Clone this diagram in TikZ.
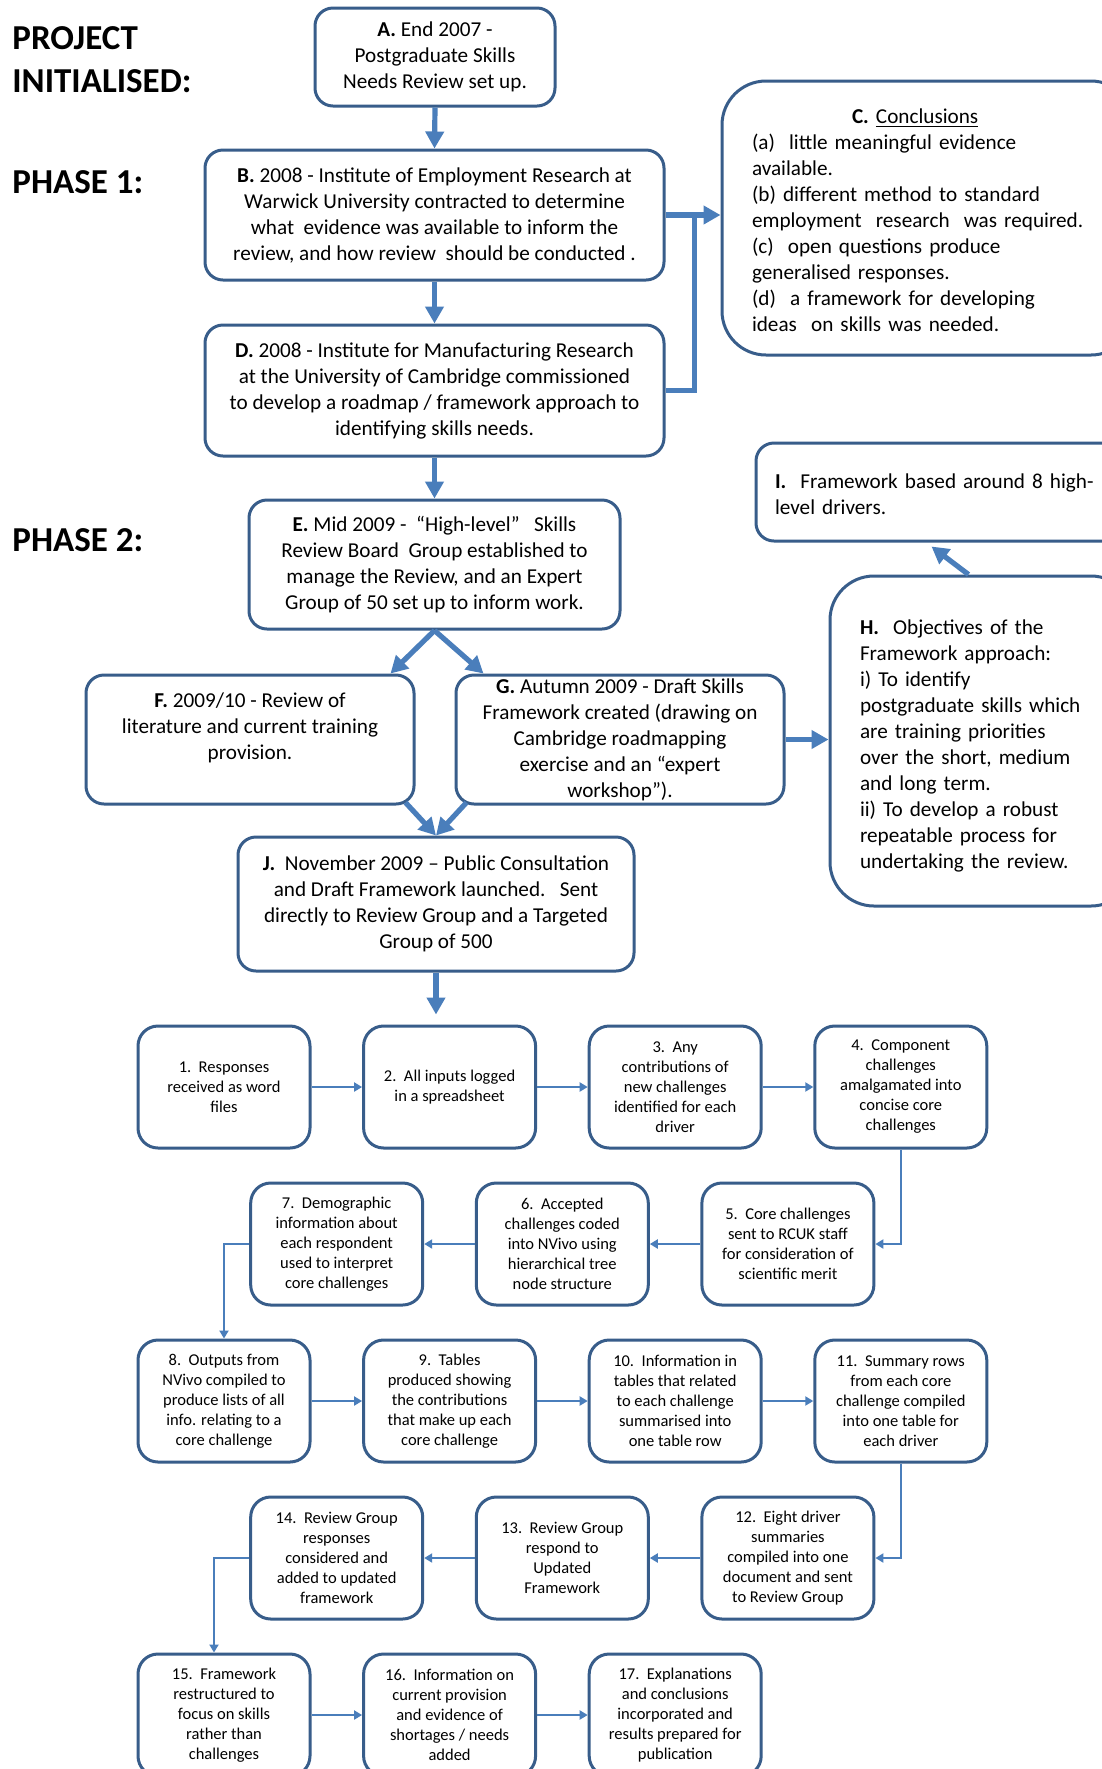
\documentclass[tikz,border=0pt]{standalone}
\usepackage{fontspec}
\setmainfont{Carlito}
\usetikzlibrary{arrows.meta,calc}
\definecolor{boxblue}{HTML}{385D8A}
\definecolor{arrblue}{HTML}{4A7EBB}
\begin{document}
\begin{tikzpicture}[x=0.5pt,y=-0.5pt,
  box/.style={draw=boxblue, line width=1.5pt, rounded corners=9pt, fill=white, align=center, inner sep=0pt, font=\fontsize{10.6}{13}\selectfont, execute at begin node={\rule{0pt}{10pt}}},
  lbox/.style={box, align=left},
  sbox/.style={draw=boxblue, line width=1.5pt, rounded corners=10pt, fill=white, align=center, minimum width=86pt, minimum height=61pt, inner sep=0pt, font=\fontsize{8.25}{10}\selectfont},
  big/.style={draw=arrblue, line width=2.6pt, -{Triangle[length=8.5pt,width=9pt]}},
  bigl/.style={draw=arrblue, line width=2.6pt},
  sm/.style={draw=arrblue, line width=1.3pt, -{Triangle[length=4pt,width=4.5pt]}},
  phase/.style={font=\fontsize{17.5}{21}\selectfont\bfseries, anchor=base west, inner sep=0pt}
]
\fill[white] (0,0) rectangle (1102,1769);
\useasboundingbox (0,0) rectangle (1102,1769);
\clip (0,0) rectangle (1102,1769);

% phase labels
\node[phase] (p0) at (12,49.5) {PROJECT};
\node[phase] (p1) at (12,92.5) {INITIALISED:};
\node[phase] (p2) at (12,193) {PHASE 1:};
\node[phase] (p3) at (12,551.5) {PHASE 2:};

% main boxes
\node[box, minimum width=120pt, minimum height=49pt] (A) at (435,57)
  {\textbf{A.} End 2007 -\\Postgraduate Skills\\Needs Review set up.};
\node[box, minimum width=229.5pt, minimum height=65pt] (B) at (434.5,215)
  {\textbf{B.} 2008 - Institute of Employment Research at\\Warwick University contracted to determine\\what\ \ evidence was available to inform the\\review, and how review\ \ should be conducted .};
\node[box, minimum width=229.5pt, minimum height=65.5pt] (D) at (434.5,390.5)
  {\textbf{D.} 2008 - Institute for Manufacturing Research\\at the University of Cambridge commissioned\\to develop a roadmap / framework approach to\\identifying skills needs.};
\node[lbox, minimum width=206.5pt, minimum height=137pt, text width=176.5pt, inner xsep=15pt, rounded corners=22pt] (C) at (928.5,218)
  {\hspace*{50pt}\textbf{C.} \underline{Conclusions}\\(a)\ \ little meaningful evidence\\available.\\(b) different method to standard\\employment\ \ research\ \ was required.\\(c)\ \ open questions produce\\generalised responses.\\(d)\ \ a framework for developing\\ideas\ \ on skills was needed.};
\node[box, minimum width=185.5pt, minimum height=64.5pt] (E) at (434.5,564.5)
  {\textbf{E.} Mid 2009 -\ \ “High-level”\ \ \ Skills\\Review Board\ \ Group established to\\manage the Review, and an Expert\\Group of 50 set up to inform work.};
\node[box, minimum width=164pt, minimum height=64.5pt] (F) at (250,739.5)
  {\textbf{F.} 2009/10 - Review of\\literature and current training\\provision.\\[0.5pt]};
\node[box, minimum width=164pt, minimum height=64.5pt] (G) at (620,739.5)
  {\textbf{G.} Autumn 2009 - Draft Skills\\Framework created (drawing on\\Cambridge roadmapping\\exercise and an “expert\\workshop”).};
\node[lbox, minimum width=189.5pt, minimum height=49pt, text width=170.5pt, inner xsep=9.5pt] (I) at (945.5,492)
  {\textbf{I.}\ \ Framework based around 8 high-\\level drivers.};
\node[lbox, minimum width=152.5pt, minimum height=165pt, text width=122.5pt, inner xsep=15pt, rounded corners=22pt] (H) at (982.5,741)
  {\rule{0pt}{12pt}\textbf{H.}\ \ Objectives of the\\Framework approach:\\i) To identify\\postgraduate skills which\\are training priorities\\over the short, medium\\and long term.\\ii) To develop a robust\\repeatable process for\\undertaking the review.};
\node[box, minimum width=198pt, minimum height=67pt] (J) at (436,904)
  {\textbf{J.}\ \ November 2009 -- Public Consultation\\and Draft Framework launched.\ \ \ Sent\\directly to Review Group and a Targeted\\Group of 500};

% small boxes
\node[sbox] (n1) at (224,1087) {1.\ \ Responses\\received as word\\files};
\node[sbox] (n2) at (449.6,1087) {2.\ \ All inputs logged\\in a spreadsheet};
\node[sbox] (n3) at (675.2,1087) {3.\ \ Any\\contributions of\\new challenges\\identified for each\\driver};
\node[sbox] (n4) at (900.8,1087) {4.\ \ Component\\challenges\\amalgamated into\\concise core\\challenges};
\node[sbox] (n5) at (787.9,1244) {5.\ \ Core challenges\\sent to RCUK staff\\for consideration of\\scientific merit};
\node[sbox] (n6) at (562.3,1244) {6.\ \ Accepted\\challenges coded\\into NVivo using\\hierarchical tree\\node structure};
\node[sbox] (n7) at (336.7,1244) {7.\ \ Demographic\\information about\\each respondent\\used to interpret\\core challenges};
\node[sbox] (n8) at (224,1401) {8.\ \ Outputs from\\NVivo compiled to\\produce lists of all\\info. relating to a\\core challenge};
\node[sbox] (n9) at (449.6,1401) {9.\ \ Tables\\produced showing\\the contributions\\that make up each\\core challenge};
\node[sbox] (n10) at (675.2,1401) {10.\ \ Information in\\tables that related\\to each challenge\\summarised into\\one table row};
\node[sbox] (n11) at (900.8,1401) {11.\ \ Summary rows\\from each core\\challenge compiled\\into one table for\\each driver};
\node[sbox] (n12) at (787.9,1558) {12.\ \ Eight driver\\summaries\\compiled into one\\document and sent\\to Review Group};
\node[sbox] (n13) at (562.3,1558) {13.\ \ Review Group\\respond to\\Updated\\Framework};
\node[sbox] (n14) at (336.7,1558) {14.\ \ Review Group\\responses\\considered and\\added to updated\\framework};
\node[sbox] (n15) at (224,1715) {15.\ \ Framework\\restructured to\\focus on skills\\rather than\\challenges};
\node[sbox] (n16) at (449.6,1715) {16.\ \ Information on\\current provision\\and evidence of\\shortages / needs\\added};
\node[sbox] (n17) at (675.2,1715) {17.\ \ Explanations\\and conclusions\\incorporated and\\results prepared for\\publication};

% big connectors
\draw[big] (A.south) -- (B.north);
\draw[big] (B.south) -- (D.north);
\draw[big] (D.south) -- (E.north);
\coordinate (bk) at ($(B.east)+(29,0)$);
\draw[bigl] (B.east) -- (bk);
\draw[bigl] (D.east) -| (bk);
\draw[big] (bk) -- (C.west |- bk);
\draw[big] (E.south) -- ($(F.north east)+(-25,0)$);
\draw[big] (E.south) -- ($(G.north west)+(29,0)$);
\draw[big] ($(F.south east)+(-10,-3)$) -- (J.north);
\draw[big] ($(G.south west)+(12,-3)$) -- (J.north);
\draw[big] (G.east) -- (H.west |- G.east);
\draw[big] ($(H.north)+(-14,0)$) -- ($(I.south)+(-14,4)$);
\draw[big] (J.south) -- ($(J.south |- n2.north)+(0,-10)$);

% small connectors
\draw[sm] (n1.east) -- (n2.west);
\draw[sm] (n2.east) -- (n3.west);
\draw[sm] (n3.east) -- (n4.west);
\draw[sm] (n4.south) |- (n5.east);
\draw[sm] (n5.west) -- (n6.east);
\draw[sm] (n6.west) -- (n7.east);
\draw[sm] (n7.west) -| (n8.north);
\draw[sm] (n8.east) -- (n9.west);
\draw[sm] (n9.east) -- (n10.west);
\draw[sm] (n10.east) -- (n11.west);
\draw[sm] (n11.south) |- (n12.east);
\draw[sm] (n12.west) -- (n13.east);
\draw[sm] (n13.west) -- (n14.east);
\draw[sm] (n14.west) -| ($(n15.north)+(-10,0)$);
\draw[sm] (n15.east) -- (n16.west);
\draw[sm] (n16.east) -- (n17.west);
\end{tikzpicture}
\end{document}
